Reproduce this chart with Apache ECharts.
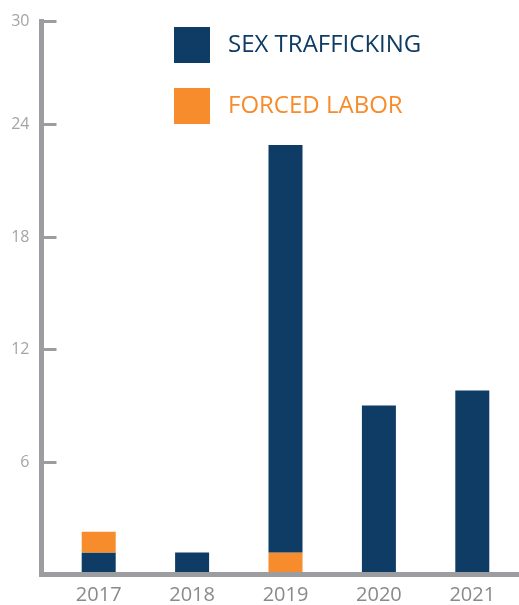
<!DOCTYPE html>
<html>
<head>
<meta charset="utf-8">
<script src="https://cdn.jsdelivr.net/npm/echarts@6/dist/echarts.min.js"></script>
<style>
  html, body { margin: 0; padding: 0; background: #fff; }
  #chart { width: 519px; height: 605px; }
</style>
</head>
<body>
<div id="chart"></div>
<script>
// values
const years = ['2017', '2018', '2019', '2020', '2021']
const sexTrafficking = [1.15, 1.15, 21.75, 9, 9.8]
const forcedLabor = [1.1, 0, 1.15, 0, 0]
// in 2017 the orange block sits on top of the blue one, in 2019 under it
const laborOnTop = [true, false, false, false, false]
const yTickLabels = ['0', '6', '12', '18', '24', '30']

const blue = '#0f3c64'
const orange = '#f68c2b'
const axisGray = '#9c9da1'

const laborBelow = forcedLabor.map((v, i) => laborOnTop[i] ? 0 : v)
const laborAbove = forcedLabor.map((v, i) => laborOnTop[i] ? v : 0)

const yMax = 29.5

const myChart = echarts.init(document.getElementById('chart'))

const option = {
  animation: false,
  legend: {
    orient: 'vertical',
    left: 174,
    top: 27,
    padding: 0,
    icon: 'rect',
    itemWidth: 36,
    itemHeight: 36,
    itemGap: 25,
    data: [
      { name: 'SEX TRAFFICKING', textStyle: { color: blue } },
      { name: 'FORCED LABOR', textStyle: { color: orange } }
    ],
    textStyle: {
      fontFamily: 'Open Sans',
      fontSize: 24,
      padding: [0, 0, 0, 13]
    }
  },
  grid: [
    // bars
    { left: 52, width: 470, top: 21.4, bottom: 30.5 },
    // axis frame
    { left: 41.5, right: 0, top: 21.4, bottom: 30.5 }
  ],
  xAxis: [
    {
      type: 'category',
      gridIndex: 0,
      data: years,
      axisLine: { show: false },
      axisTick: { show: false },
      axisLabel: {
        color: '#8a8a8a',
        fontFamily: 'Open Sans',
        fontSize: 20,
        margin: 11
      }
    },
    {
      type: 'value',
      gridIndex: 1,
      min: 0,
      max: 1,
      z: 5,
      axisLine: { show: true, lineStyle: { color: axisGray, width: 5, cap: 'square' } },
      axisTick: { show: false },
      axisLabel: { show: false },
      splitLine: { show: false }
    }
  ],
  yAxis: [
    {
      type: 'value',
      gridIndex: 0,
      min: 0,
      max: yMax,
      show: false
    },
    {
      type: 'value',
      gridIndex: 1,
      min: 0,
      max: yMax,
      interval: 6,
      z: 5,
      axisLine: { show: true, lineStyle: { color: axisGray, width: 5, cap: 'square' } },
      axisTick: {
        show: true,
        inside: true,
        length: 15,
        lineStyle: { color: axisGray, width: 3 }
      },
      axisLabel: {
        color: '#a4a4a4',
        fontFamily: 'Open Sans',
        fontSize: 16,
        margin: 12,
        padding: [0, 0, 6, 0],
        showMinLabel: false,
        formatter: function (v) {
          if (v === 0) return ''
          return v > 24 ? yTickLabels[5] : yTickLabels[Math.round(v / 6)]
        }
      },
      splitLine: { show: false }
    }
  ],
  series: [
    {
      name: 'FORCED LABOR',
      type: 'bar',
      stack: 'total',
      xAxisIndex: 0,
      yAxisIndex: 0,
      barWidth: 34,
      itemStyle: { color: orange },
      data: laborBelow
    },
    {
      name: 'SEX TRAFFICKING',
      type: 'bar',
      stack: 'total',
      xAxisIndex: 0,
      yAxisIndex: 0,
      barWidth: 34,
      itemStyle: { color: blue },
      data: sexTrafficking
    },
    {
      name: 'FORCED LABOR',
      type: 'bar',
      stack: 'total',
      xAxisIndex: 0,
      yAxisIndex: 0,
      barWidth: 34,
      itemStyle: { color: orange },
      data: laborAbove
    }
  ]
}

myChart.setOption(option)
</script>
</body>
</html>
